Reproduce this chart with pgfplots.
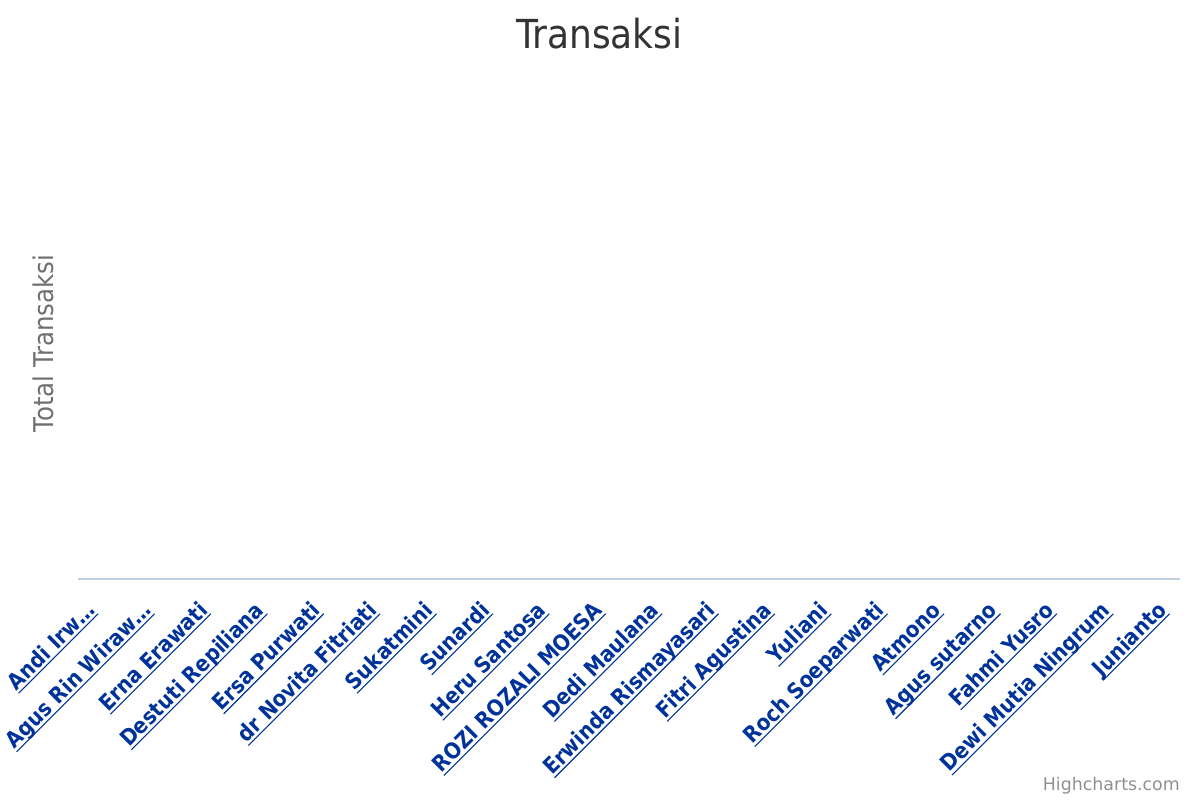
\documentclass[border=0pt]{standalone}
\usepackage{fontspec}
\setmainfont{DejaVu Sans Condensed}
\newfontfamily\regfont{DejaVu Sans}
\usepackage{pgfplots}
\pgfplotsset{compat=1.18}
\definecolor{linkblue}{RGB}{0,51,153}
\definecolor{titlegray}{RGB}{51,51,51}
\definecolor{ylabgray}{RGB}{112,112,112}
\definecolor{creditgray}{RGB}{144,144,144}
\definecolor{axisline}{RGB}{192,208,224}
\newcommand\ul[1]{\setbox0\hbox{#1}\rlap{\raisebox{-3.5bp}{\rule{\wd0}{1.1bp}}}\box0}
\begin{document}
\begin{tikzpicture}
\begin{axis}[
  at={(0,0)}, anchor=south west,
  scale only axis, width=1102bp, height=471bp,
  xmin=-0.323, xmax=19.217, ymin=0, ymax=1,
  axis x line=bottom, axis y line=none,
  x axis line style={-, draw=axisline, line width=1.6bp},
  ytick=\empty,
  xtick={0,...,19},
  major tick length=0pt,
  xticklabels={
    {\ul{Andi Irw…}},
    {\ul{Agus Rin Wiraw…}},
    {\ul{Erna Erawati}},
    {\ul{Destuti Repiliana}},
    {\ul{Ersa Purwati}},
    {\ul{dr Novita Fitriati}},
    {\ul{Sukatmini}},
    {\ul{Sunardi}},
    {\ul{Heru Santosa}},
    {\ul{ROZI ROZALI MOESA}},
    {\ul{Dedi Maulana}},
    {\ul{Erwinda Rismayasari}},
    {\ul{Fitri Agustina}},
    {\ul{Yuliani}},
    {\ul{Roch Soeparwati}},
    {\ul{Atmono}},
    {\ul{Agus sutarno}},
    {\ul{Fahmi Yusro}},
    {\ul{Dewi Mutia Ningrum}},
    {\ul{Junianto}}
  },
  xticklabel style={yshift=-32.5bp, rotate=45, anchor=base east, inner sep=0pt,
    font=\fontsize{22bp}{24bp}\selectfont\bfseries, text=linkblue},
]
\end{axis}
\node[anchor=base, text=titlegray, inner sep=0pt, font=\fontsize{40bp}{44bp}\selectfont] at (521.5bp,530.7bp) {Transaksi};
\node[anchor=base, rotate=90, text=ylabgray, inner sep=0pt, font=\fontsize{27.2bp}{30bp}\selectfont] at (-25bp,235.5bp) {Total Transaksi};
\node[anchor=base east, text=creditgray, inner sep=0pt, font=\regfont\fontsize{17.4bp}{20bp}\selectfont] at (1102bp,-211bp) {Highcharts.com};
\pgfresetboundingbox
\path[use as bounding box] (-78bp,-221bp) rectangle (1122bp,579bp);
\end{tikzpicture}
\end{document}
